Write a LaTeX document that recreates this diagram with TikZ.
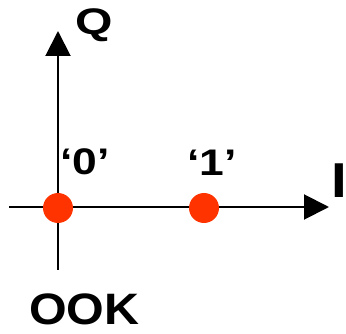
\documentclass[tikz,border=0pt]{standalone}
\usepackage{fontspec}
\setmainfont{Liberation Sans}
\usetikzlibrary{arrows.meta}
\definecolor{dotred}{RGB}{255,51,0}
\tikzset{
  axis/.style={line width=2pt, -{Triangle[length=25pt,width=25pt]}},
  symdot/.style={circle, fill=dotred, minimum size=30pt, inner sep=0pt},
  lbl/.style={inner sep=0pt, anchor=base west}
}
\begin{document}
\begin{tikzpicture}[x=1pt,y=-1pt]
\useasboundingbox (0,0) rectangle (346,334);
\coordinate (hl) at (9,207);
\coordinate (hr) at (329,207);
\coordinate (vb) at (58,270);
\coordinate (vt) at (58,31);
\draw[axis] (hl) -- (hr);
\draw[axis] (vb) -- (vt);
\node[symdot] (d0) at (58,208) {};
\node[symdot] (d1) at (204,208) {};
\node[lbl, font=\bfseries\fontsize{37}{37}\selectfont, xscale=1.3] (q) at (75,35) {Q};
\node[lbl, font=\bfseries\fontsize{49}{49}\selectfont, xscale=1.15] (i) at (331,198) {I};
\node[lbl, font=\bfseries\fontsize{37}{37}\selectfont, xscale=1.2] (l0) at (60,175) {‘0’};
\node[lbl, font=\bfseries\fontsize{37}{37}\selectfont, xscale=1.2] (l1) at (187,176) {‘1’};
\node[lbl, font=\bfseries\fontsize{44}{44}\selectfont, xscale=1.1] (ook) at (29,325) {OOK};
\end{tikzpicture}
\end{document}
